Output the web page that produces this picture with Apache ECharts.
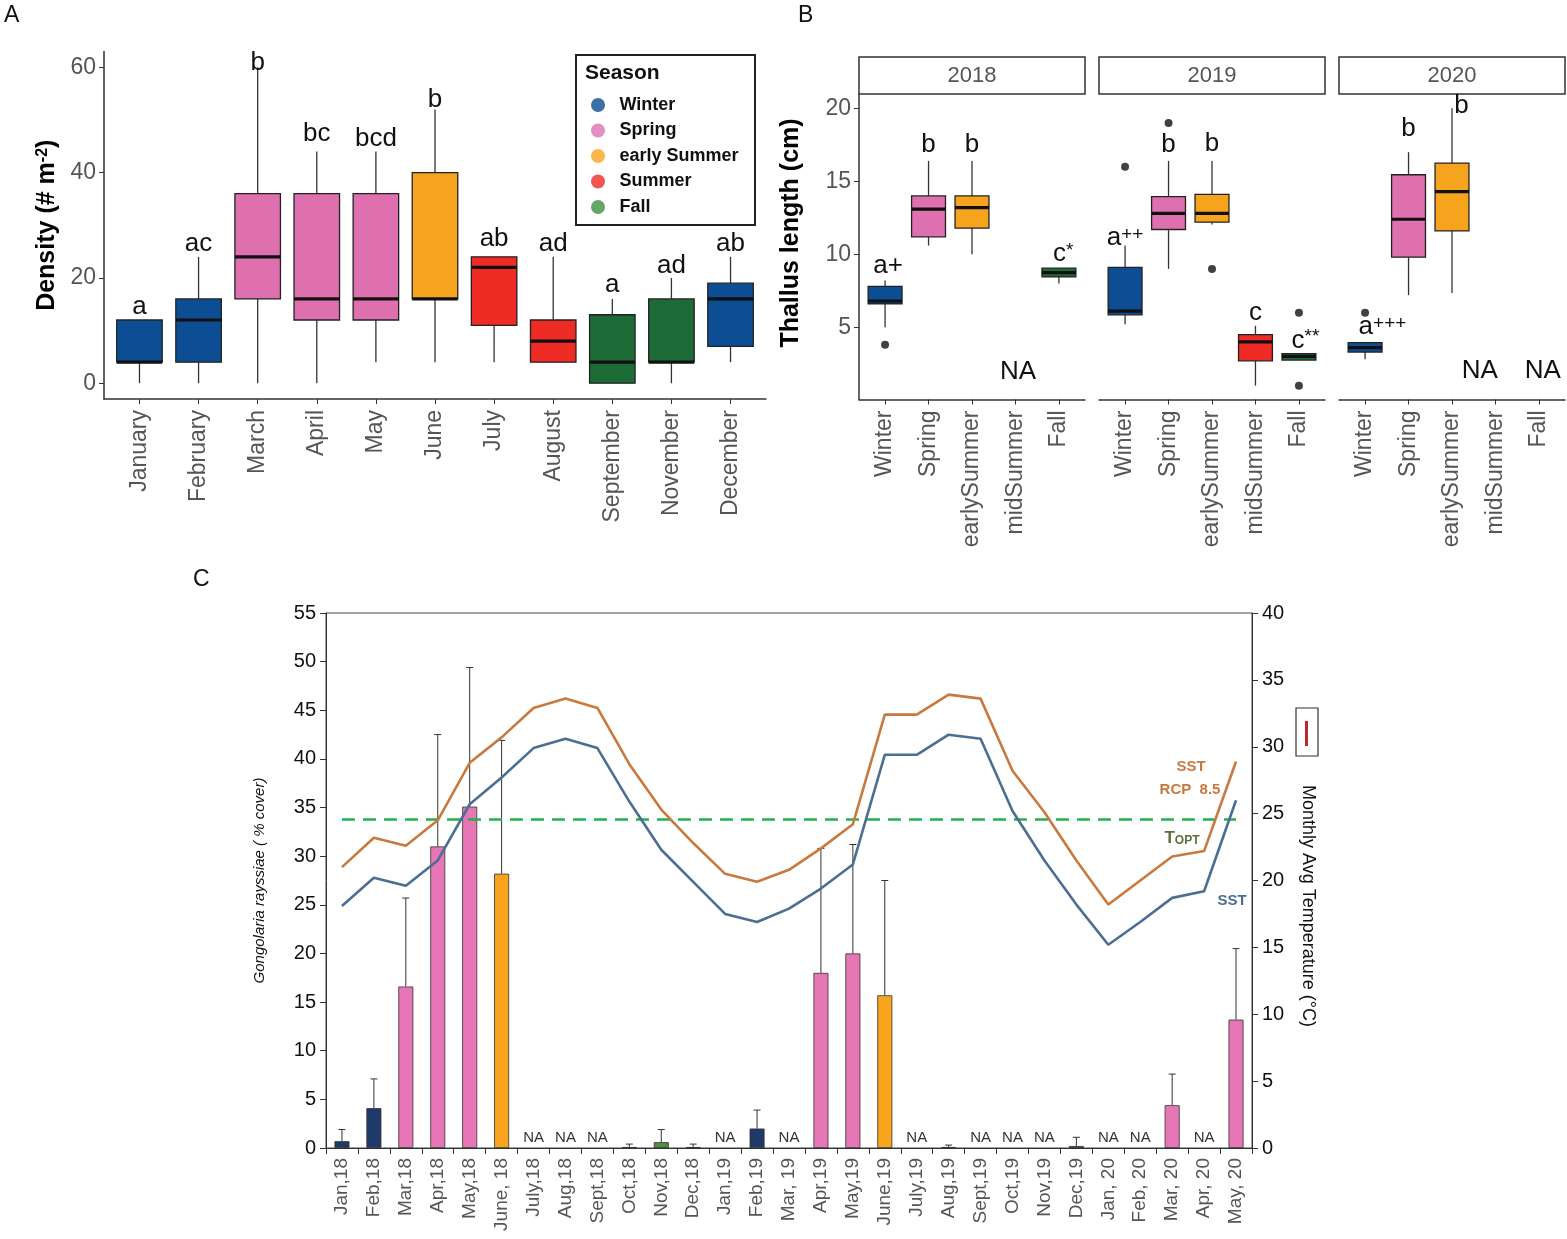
<!DOCTYPE html>
<html><head><meta charset="utf-8">
<script src="https://cdn.jsdelivr.net/npm/echarts@6/dist/echarts.min.js"></script>
<style>html,body{margin:0;padding:0;background:#fff}#c{width:1567px;height:1239px}</style>
</head><body><div id="c"></div>
<script>
// ---------- Panel A: density by month ----------
const monthsA = ['January','February','March','April','May','June','July','August','September','November','December'];
const seasonA = [0,0,1,1,1,2,3,3,4,4,0];
const minA = [0,0,0,0,4,4,4,4,0,0,4];
const q1A  = [4,4,16,12,12,16,11,4,0,4,7];
const medA = [4,12,24,16,16,16,22,8,4,4,16];
const q3A  = [12,16,36,36,36,40,24,12,13,16,19];
const maxA = [12,24,60,44,44,52,24,24,16,20,24];
const lettersA = ['a','ac','b','bc','bcd','b','ab','ad','a','ad','ab'];
const letterValA = [14.6,26.4,60.8,47.3,46.4,53.8,27.4,26.4,18.7,22.2,26.4];
const seasonNames = ['Winter','Spring','early Summer','Summer','Fall'];
const boxColors = ['#0c4d93','#df70b0','#f6a31d','#ee2b25','#1d6b36'];
const legendColors = ['#0d4c92','#df72b1','#f7a51f','#ee2a25','#3e9142'];
const yTicksA = [0,20,40,60];

// ---------- Panel B: thallus length ----------
const seasonsB = ['Winter','Spring','earlySummer','midSummer','Fall'];
const seasonColB = [0,1,2,3,4];
const yearsB = ['2018','2019','2020'];
// [min, q1, median, q3, max]
const box2018 = [[5.0,6.6,6.8,7.8,8.2],[10.6,11.2,13.1,14.0,16.4],[10.0,11.8,13.2,14.0,16.4],null,[8.0,8.45,8.75,9.05,9.05]];
const box2019 = [[5.2,5.85,6.1,9.1,10.6],[9.0,11.7,12.8,13.95,16.4],[12.05,12.2,12.8,14.1,16.4],[1.0,2.7,4.0,4.5,5.1],[2.75,2.75,3.0,3.2,3.2]];
const box2020 = [[2.8,3.3,3.6,3.95,3.95],[7.2,9.8,12.4,15.45,17.0],[7.35,11.6,14.3,16.25,20.0],null,null];
const out2018 = [[0,3.8]];
const out2019 = [[0,16.0],[1,19.0],[2,9.0],[4,6.0],[4,1.0]];
const out2020 = [[0,6.0]];
// [x, y, text]
const lab2018 = [[0.07,9.2,'a+'],[1,17.5,'b'],[2,17.5,'b'],[4.1,10.0,'{n|c}{s|*}'],[3.06,1.95,'NA']];
const lab2019 = [[0,11.1,'{n|a}{s|++}'],[1,17.5,'b'],[2,17.6,'b'],[3,6.0,'c'],[4.15,4.1,'{n|c}{s|**}']];
const lab2020 = [[0.4,5.0,'{n|a}{s|+++}'],[1,18.6,'b'],[2.22,20.2,'b'],[2.64,2.0,'NA'],[4.09,2.0,'NA']];
const yTicksB = [5,10,15,20];

// ---------- Panel C: cover and temperature ----------
const monthsC = ['Jan,18','Feb,18','Mar,18','Apr,18','May,18','June, 18','July,18','Aug,18','Sept,18','Oct,18','Nov,18','Dec,18',
 'Jan,19','Feb,19','Mar, 19','Apr,19','May,19','June,19','July,19','Aug,19','Sept,19','Oct,19','Nov,19','Dec,19',
 'Jan, 20','Feb, 20','Mar, 20','Apr, 20','May, 20'];
const coverMean = [0.7,4.1,16.6,31.0,35.1,28.2,null,null,null,0.1,0.6,0.1,null,2.0,null,18.0,20.0,15.7,null,0.1,null,null,null,0.2,null,null,4.4,null,13.2];
const coverUpper = [1.9,7.1,25.7,42.5,49.4,41.9,null,null,null,0.4,1.9,0.4,null,3.9,null,30.8,31.2,27.5,null,0.3,null,null,null,1.1,null,null,7.6,null,20.5];
const coverSeason = [0,0,1,1,1,2,null,null,null,0,3,0,null,0,null,1,1,2,null,0,null,null,null,0,null,null,1,null,1];
const barColors = ['#1f3a68','#e776b6','#f8a41c','#4f8f3e'];
const sstC = [18.1,20.2,19.6,21.5,25.7,27.7,29.9,30.6,29.9,25.9,22.3,19.9,17.5,16.9,17.9,19.4,21.2,29.4,29.4,30.9,30.6,25.2,21.5,18.2,15.2,16.9,18.7,19.2,26.0];
const rcpC = [21.0,23.2,22.6,24.5,28.8,30.7,32.9,33.6,32.9,28.7,25.3,22.8,20.5,19.9,20.8,22.4,24.2,32.4,32.4,33.9,33.6,28.2,25.1,21.5,18.2,20.0,21.8,22.2,28.9];
const tOpt = 24.6;

const FONT = 'Liberation Sans, Arial, sans-serif';

function boxRender(colors, widthFrac){
  return function(params, api){
    const x = api.value(0);
    const pMin = api.coord([x, api.value(1)]);
    const pQ1 = api.coord([x, api.value(2)]);
    const pMed = api.coord([x, api.value(3)]);
    const pQ3 = api.coord([x, api.value(4)]);
    const pMax = api.coord([x, api.value(5)]);
    const ci = api.value(6);
    const hw = api.size([widthFrac, 0])[0] / 2;
    const cx = pQ1[0];
    return {type:'group', children:[
      {type:'line', shape:{x1:cx,y1:pMin[1],x2:cx,y2:pQ1[1]}, style:{stroke:'#333',lineWidth:1.3}},
      {type:'line', shape:{x1:cx,y1:pQ3[1],x2:cx,y2:pMax[1]}, style:{stroke:'#333',lineWidth:1.3}},
      {type:'rect', shape:{x:cx-hw,y:pQ3[1],width:2*hw,height:Math.max(pQ1[1]-pQ3[1],1)}, style:{fill:colors[ci],stroke:'#222',lineWidth:1.3}},
      {type:'line', shape:{x1:cx-hw,y1:pMed[1],x2:cx+hw,y2:pMed[1]}, style:{stroke:'#111',lineWidth:3.2}}
    ]};
  };
}
function textRender(size){
  return function(params, api){
    const p = api.coord([api.value(0), api.value(1)]);
    const t = params.context.texts[params.dataIndex];
    return {type:'text', x:p[0], y:p[1], style:{text:t, fill:'#111', font:size+'px '+FONT, textAlign:'center', textVerticalAlign:'middle',
      rich:{n:{fontSize:size, fontFamily:FONT, fill:'#111'}, s:{fontSize:Math.round(size*0.72), fontFamily:FONT, fill:'#111', verticalAlign:'top'}}}};
  };
}
function makeTextSeries(xi, yi, arr, size){
  const texts = arr.map(d => d[2]);
  return {type:'custom', xAxisIndex:xi, yAxisIndex:yi, z:10,
    renderItem:function(params, api){ params.context.texts = texts; return textRender(size)(params, api); },
    data: arr.map(d => [d[0], d[1]])};
}

const boxDataA = monthsA.map((m,i)=>[i,minA[i],q1A[i],medA[i],q3A[i],maxA[i],seasonA[i]]);
const boxesB = [box2018, box2019, box2020];
const outsB = [out2018, out2019, out2020];
const labsB = [lab2018, lab2019, lab2020];
const gridLeftB = [859, 1099, 1339];
const gridWB = 226;

const grids = [
  {left:104, top:51.5, width:662, height:347.5},
  {left:gridLeftB[0], top:94.5, width:gridWB, height:305},
  {left:gridLeftB[1], top:94.5, width:gridWB, height:305},
  {left:gridLeftB[2], top:94.5, width:gridWB, height:305},
  {left:326, top:613, width:926, height:535, show:true, borderColor:'#444', borderWidth:1}
];

const axisLineDark = {show:true, onZero:false, lineStyle:{color:'#333', width:1.5}};
const xAxes = [
  {gridIndex:0, type:'value', min:-0.6, max:10.6, splitLine:{show:false}, axisLine:axisLineDark,
   axisTick:{show:true, length:5, lineStyle:{color:'#333'}, customValues:monthsA.map((m,i)=>i)},
   axisLabel:{rotate:90, color:'#555', fontSize:23, fontFamily:FONT, margin:11, customValues:monthsA.map((m,i)=>i), formatter:v=>monthsA[v]}}
];
for (let k=0;k<3;k++){
  xAxes.push({gridIndex:k+1, type:'value', min:-0.6, max:4.6, splitLine:{show:false}, axisLine:axisLineDark,
   axisTick:{show:true, length:5, lineStyle:{color:'#333'}, customValues:[0,1,2,3,4]},
   axisLabel:{rotate:90, color:'#555', fontSize:23, fontFamily:FONT, margin:11, customValues:[0,1,2,3,4], formatter:v=>seasonsB[v]}});
}
xAxes.push({gridIndex:4, type:'category', data:monthsC, boundaryGap:true,
  axisLine:{show:true, onZero:false, lineStyle:{color:'#333', width:1}},
  axisTick:{show:true, interval:0, length:6, lineStyle:{color:'#333'}},
  axisLabel:{interval:0, rotate:90, color:'#555', fontSize:19, fontFamily:FONT, margin:10}});

const yAxes = [
  {gridIndex:0, type:'value', min:-3, max:63, splitLine:{show:false}, axisLine:axisLineDark,
   axisTick:{show:true, length:5, lineStyle:{color:'#333'}, customValues:yTicksA},
   axisLabel:{color:'#555', fontSize:23, fontFamily:FONT, margin:8, customValues:yTicksA},
   name:'{t|Density (# m}{s|-2}{t|)}', nameLocation:'middle', nameGap:44,
   nameTextStyle:{rich:{t:{fontSize:25, fontWeight:'bold', fontFamily:FONT, color:'#000'}, s:{fontSize:16, fontWeight:'bold', fontFamily:FONT, color:'#000', verticalAlign:'top'}}}},
  {gridIndex:1, type:'value', min:0.05, max:20.95, splitLine:{show:false}, axisLine:axisLineDark,
   axisTick:{show:true, length:5, lineStyle:{color:'#333'}, customValues:yTicksB},
   axisLabel:{color:'#555', fontSize:23, fontFamily:FONT, margin:8, customValues:yTicksB}},
  {gridIndex:2, type:'value', min:0.05, max:20.95, show:false},
  {gridIndex:3, type:'value', min:0.05, max:20.95, show:false},
  {gridIndex:4, type:'value', min:0, max:55, interval:5, splitLine:{show:false},
   axisLine:{show:true, onZero:false, lineStyle:{color:'#333'}}, axisTick:{show:true, length:6, lineStyle:{color:'#333'}},
   axisLabel:{color:'#111', fontSize:20, fontFamily:FONT, margin:10},
   name:'Gongolaria rayssiae ( % cover)', nameLocation:'middle', nameGap:59,
   nameTextStyle:{fontSize:15, fontStyle:'italic', fontFamily:FONT, color:'#111'}},
  {gridIndex:4, type:'value', position:'right', min:0, max:40, interval:5, splitLine:{show:false},
   axisLine:{show:true, onZero:false, lineStyle:{color:'#333'}}, axisTick:{show:true, length:6, lineStyle:{color:'#333'}},
   axisLabel:{color:'#111', fontSize:20, fontFamily:FONT, margin:10}}
];

const series = [];
// Panel A
series.push({type:'custom', xAxisIndex:0, yAxisIndex:0, renderItem:boxRender(boxColors, 0.77), data:boxDataA});
series.push(makeTextSeries(0, 0, monthsA.map((m,i)=>[i, letterValA[i], lettersA[i]]), 26));
seasonNames.forEach((n,i)=>{
  series.push({type:'scatter', name:n, xAxisIndex:0, yAxisIndex:0, data:[], itemStyle:{color:legendColors[i]}});
});
// Panel B
for (let k=0;k<3;k++){
  const data = [];
  boxesB[k].forEach((b,i)=>{ if (b) data.push([i, b[0], b[1], b[2], b[3], b[4], seasonColB[i]]); });
  series.push({type:'custom', xAxisIndex:k+1, yAxisIndex:k+1, renderItem:boxRender(boxColors, 0.78), data:data});
  series.push({type:'scatter', xAxisIndex:k+1, yAxisIndex:k+1, symbolSize:8, itemStyle:{color:'#111'}, data:outsB[k]});
  series.push(makeTextSeries(k+1, k+1, labsB[k], 26));
}
// Panel C
series.push({type:'bar', xAxisIndex:4, yAxisIndex:4, barWidth:15, z:2,
  data: coverMean.map((v,i)=> v==null ? '-' : {value:v, itemStyle:{color:barColors[coverSeason[i]], borderColor:'#333', borderWidth:0.8}})});
series.push({type:'custom', xAxisIndex:4, yAxisIndex:4, z:3,
  renderItem:function(params, api){
    const a = api.coord([api.value(0), api.value(1)]);
    const b = api.coord([api.value(0), api.value(2)]);
    return {type:'group', children:[
      {type:'line', shape:{x1:a[0],y1:a[1],x2:b[0],y2:b[1]}, style:{stroke:'#333',lineWidth:1}},
      {type:'line', shape:{x1:b[0]-3.5,y1:b[1],x2:b[0]+3.5,y2:b[1]}, style:{stroke:'#333',lineWidth:1}}
    ]};
  },
  data: coverMean.map((v,i)=> v==null ? null : [i, v, coverUpper[i]]).filter(d=>d)});
series.push({type:'custom', xAxisIndex:4, yAxisIndex:4, z:3,
  renderItem:function(params, api){
    const p = api.coord([api.value(0), 0]);
    return {type:'text', x:p[0], y:p[1]-10, style:{text:'NA', fill:'#333', font:'15px '+FONT, textAlign:'center', textVerticalAlign:'middle'}};
  },
  data: coverMean.map((v,i)=> v==null ? [i, 0] : null).filter(d=>d)});
series.push({type:'line', name:'SST RCP 8.5', xAxisIndex:4, yAxisIndex:5, data:rcpC, symbol:'none', z:5,
  lineStyle:{color:'#c87a3e', width:2.6},
  markLine:{symbol:'none', silent:true, label:{show:false},
    lineStyle:{color:'#22b14c', type:[13,8], width:2.6},
    data:[[{coord:[0, tOpt]},{coord:[monthsC.length-1, tOpt]}]]}});
series.push({type:'line', name:'SST', xAxisIndex:4, yAxisIndex:5, data:sstC, symbol:'none', z:5,
  lineStyle:{color:'#4a6f93', width:2.6}});

const option = {
  backgroundColor:'#fff',
  animation:false,
  grid: grids,
  xAxis: xAxes,
  yAxis: yAxes,
  legend: {data:seasonNames, orient:'vertical', left:586, top:91, icon:'circle', itemWidth:15, itemHeight:14, itemGap:7.5,
    selectedMode:false, textStyle:{fontFamily:FONT, fontWeight:'bold', fontSize:18, color:'#111', padding:[0,0,0,9]}},
  graphic: [
    {type:'text', left:4, top:4, style:{text:'A', font:'23px '+FONT, fill:'#111'}},
    {type:'text', left:798, top:4, style:{text:'B', font:'23px '+FONT, fill:'#111'}},
    {type:'text', left:193, top:568, style:{text:'C', font:'23px '+FONT, fill:'#111'}},
    {type:'rect', shape:{x:576, y:55, width:179, height:170}, style:{fill:'none', stroke:'#222', lineWidth:2}},
    {type:'text', x:585, y:73, style:{text:'Season', font:'bold 21px '+FONT, fill:'#111', textVerticalAlign:'middle'}},
    // facet strips
    ...yearsB.map((y,k)=>({type:'group', children:[
      {type:'rect', shape:{x:gridLeftB[k], y:57, width:gridWB, height:37}, style:{fill:'#fff', stroke:'#333', lineWidth:1.5}},
      {type:'text', x:gridLeftB[k]+gridWB/2, y:76, style:{text:y, font:'22px '+FONT, fill:'#555', textAlign:'center', textVerticalAlign:'middle'}}
    ]})),
    {type:'text', x:791, y:233, rotation:Math.PI/2, style:{text:'Thallus length (cm)', font:'bold 25px '+FONT, fill:'#000', textAlign:'center', textVerticalAlign:'middle'}},
    // panel C annotations
    {type:'text', x:1191, y:767, style:{text:'SST', font:'bold 15px '+FONT, fill:'#c87a3e', textAlign:'center', textVerticalAlign:'middle'}},
    {type:'text', x:1190, y:790, style:{text:'RCP  8.5', font:'bold 15px '+FONT, fill:'#c87a3e', textAlign:'center', textVerticalAlign:'middle'}},
    {type:'text', x:1182, y:838, style:{text:'{a|T}{b|OPT}', textAlign:'center', textVerticalAlign:'middle',
      rich:{a:{fontSize:17, fontWeight:'bold', fontFamily:FONT, fill:'#56733a'}, b:{fontSize:12, fontWeight:'bold', fontFamily:FONT, fill:'#56733a', verticalAlign:'bottom'}}}},
    {type:'text', x:1232, y:901, style:{text:'SST', font:'bold 15px '+FONT, fill:'#4a6f93', textAlign:'center', textVerticalAlign:'middle'}},
    {type:'rect', shape:{x:1296, y:708, width:22, height:48}, style:{fill:'#fff', stroke:'#333', lineWidth:1.2}},
    {type:'line', shape:{x1:1306.5, y1:721, x2:1306.5, y2:746}, style:{stroke:'#c0272d', lineWidth:3}},
    {type:'text', x:1308, y:906, rotation:-Math.PI/2, style:{text:'Monthly Avg Temperature (°C)', font:'18px '+FONT, fill:'#111', textAlign:'center', textVerticalAlign:'middle'}}
  ],
  series: series
};
const chart = echarts.init(document.getElementById('c'), null, {renderer:'canvas'});
chart.setOption(option);
</script>
</body></html>
